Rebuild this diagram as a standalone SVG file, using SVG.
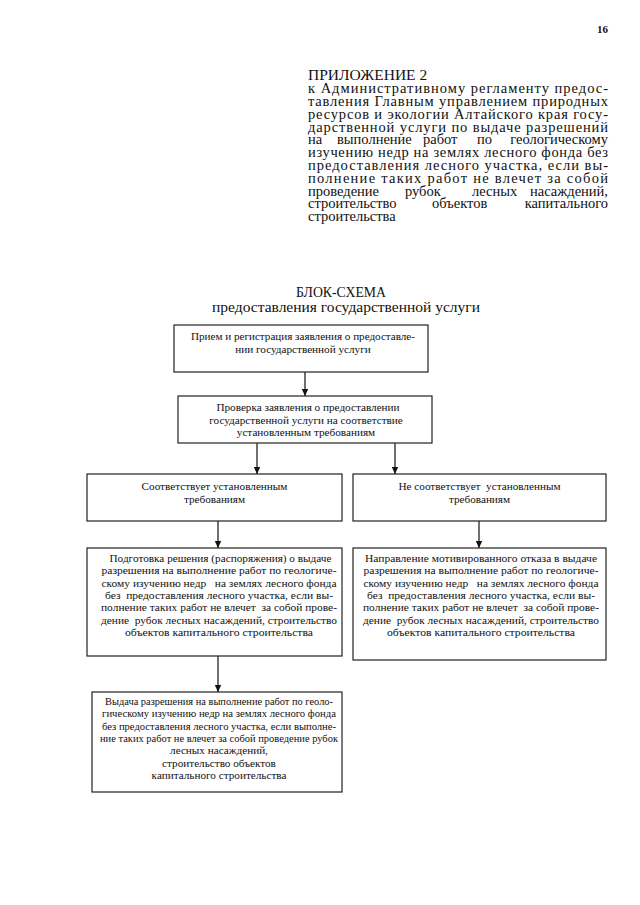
<svg xmlns="http://www.w3.org/2000/svg" width="640" height="905" viewBox="0 0 640 905">
<defs>
<marker id="ah" markerWidth="8" markerHeight="8" refX="7" refY="4" orient="auto" markerUnits="userSpaceOnUse">
<path d="M0,0.8 L7,4 L0,7.2 Z" fill="#111"/>
</marker>
<style>
text{font-family:"Liberation Serif","Times New Roman",serif;fill:#111}
.hd{font-size:14.5px}
.tt{font-size:15.5px}
.bx{font-size:11.2px;text-anchor:middle;white-space:pre}
.box{fill:#fff;stroke:#222;stroke-width:1.2}
.ln{stroke:#111;stroke-width:1.2;fill:none;marker-end:url(#ah)}
</style>
</defs>
<rect width="640" height="905" fill="#fff"/>
<text x="597" y="33" style="font-size:11px;font-weight:bold">16</text>
<g id="header" class="hd">
<text x="308" y="80" style="font-size:15.5px">ПРИЛОЖЕНИЕ 2</text>
<text x="308" y="93" textLength="300" lengthAdjust="spacing">к Административному регламенту предос-</text>
<text x="308" y="106" textLength="300" lengthAdjust="spacing">тавления Главным управлением природных</text>
<text x="308" y="119" textLength="300" lengthAdjust="spacing">ресурсов и экологии Алтайского края госу-</text>
<text x="308" y="131.5" textLength="300" lengthAdjust="spacing">дарственной услуги по выдаче разрешений</text>
<text x="308" y="144">на</text><text x="337" y="144">выполнение</text><text x="423" y="144">работ</text><text x="477" y="144">по</text><text x="608" y="144" text-anchor="end">геологическому</text>
<text x="308" y="157" textLength="300" lengthAdjust="spacing">изучению недр на землях лесного фонда без</text>
<text x="308" y="170" textLength="300" lengthAdjust="spacing">предоставления лесного участка, если вы-</text>
<text x="308" y="182.5" textLength="300" lengthAdjust="spacing">полнение таких работ не влечет за собой</text>
<text x="308" y="195.5">проведение</text><text x="405" y="195.5">рубок</text><text x="472" y="195.5">лесных</text><text x="608" y="195.5" text-anchor="end">насаждений,</text>
<text x="308" y="208">строительство</text><text x="432" y="208">объектов</text><text x="608" y="208" text-anchor="end">капитального</text>
<text x="308" y="221">строительства</text>
</g>
<g id="title" class="tt" text-anchor="middle">
<text x="341" y="297" textLength="90" lengthAdjust="spacingAndGlyphs">БЛОК-СХЕМА</text>
<text x="346" y="312">предоставления государственной услуги</text>
</g>
<g id="connectors">
<line class="ln" x1="305" y1="372" x2="305" y2="396"/>
<line class="ln" x1="257" y1="443" x2="257" y2="474"/>
<line class="ln" x1="395" y1="443" x2="395" y2="474"/>
<line class="ln" x1="218" y1="521" x2="218" y2="548"/>
<line class="ln" x1="479" y1="521" x2="479" y2="548"/>
<line class="ln" x1="218" y1="656" x2="218" y2="692"/>
</g>
<g id="n1">
<rect class="box" x="174" y="325" width="254" height="47"/>
<text class="bx" x="303" y="340" textLength="224" lengthAdjust="spacingAndGlyphs">Прием и регистрация заявления о предоставле-</text>
<text class="bx" x="303" y="352.5">нии государственной услуги</text>
</g>
<g id="n2">
<rect class="box" x="178" y="396" width="254" height="47"/>
<text class="bx" x="308" y="411">Проверка заявления о предоставлении</text>
<text class="bx" x="306" y="423.5">государственной услуги на соответствие</text>
<text class="bx" x="306" y="436">установленным требованиям</text>
</g>
<g id="n3">
<rect class="box" x="87" y="474" width="255" height="47"/>
<text class="bx" x="214.5" y="490">Соответствует установленным</text>
<text class="bx" x="214.5" y="503">требованиям</text>
</g>
<g id="n4">
<rect class="box" x="353" y="474" width="253" height="47"/>
<text class="bx" x="479.5" y="490">Не соответствует  установленным</text>
<text class="bx" x="479.5" y="503">требованиям</text>
</g>
<g id="n5">
<rect class="box" x="87" y="548" width="255" height="108"/>
<text class="bx" x="220.5" y="562" textLength="222" lengthAdjust="spacingAndGlyphs">Подготовка решения (распоряжения) о выдаче</text>
<text class="bx" x="219" y="574.3" textLength="235" lengthAdjust="spacingAndGlyphs">разрешения на выполнение работ по геологиче-</text>
<text class="bx" x="219" y="586.6" textLength="235" lengthAdjust="spacingAndGlyphs">скому изучению недр   на землях лесного фонда</text>
<text class="bx" x="219" y="598.9" textLength="228" lengthAdjust="spacingAndGlyphs">без  предоставления лесного участка, если вы-</text>
<text class="bx" x="219" y="611.2" textLength="236" lengthAdjust="spacingAndGlyphs">полнение таких работ не влечет  за собой прове-</text>
<text class="bx" x="219" y="623.5" textLength="236" lengthAdjust="spacingAndGlyphs">дение  рубок лесных насаждений, строительство</text>
<text class="bx" x="219" y="635.8" textLength="188" lengthAdjust="spacingAndGlyphs">объектов капитального строительства</text>
</g>
<g id="n6">
<rect class="box" x="353" y="548" width="253" height="112"/>
<text class="bx" x="481" y="562" textLength="232" lengthAdjust="spacingAndGlyphs">Направление мотивированного отказа в выдаче</text>
<text class="bx" x="481" y="574.3" textLength="235" lengthAdjust="spacingAndGlyphs">разрешения на выполнение работ по геологиче-</text>
<text class="bx" x="481" y="586.6" textLength="235" lengthAdjust="spacingAndGlyphs">скому изучению недр   на землях лесного фонда</text>
<text class="bx" x="481" y="598.9" textLength="228" lengthAdjust="spacingAndGlyphs">без  предоставления лесного участка, если вы-</text>
<text class="bx" x="481" y="611.2" textLength="236" lengthAdjust="spacingAndGlyphs">полнение таких работ не влечет  за собой прове-</text>
<text class="bx" x="481" y="623.5" textLength="236" lengthAdjust="spacingAndGlyphs">дение  рубок лесных насаждений, строительство</text>
<text class="bx" x="481" y="635.8" textLength="188" lengthAdjust="spacingAndGlyphs">объектов капитального строительства</text>
</g>
<g id="n7">
<rect class="box" x="92" y="692" width="250" height="100"/>
<text class="bx" x="219" y="705" textLength="228" lengthAdjust="spacingAndGlyphs">Выдача разрешения на выполнение работ по геоло-</text>
<text class="bx" x="219" y="717.3" textLength="234" lengthAdjust="spacingAndGlyphs">гическому изучению недр на землях лесного фонда</text>
<text class="bx" x="219" y="729.6" textLength="234" lengthAdjust="spacingAndGlyphs">без предоставления лесного участка, если выполне-</text>
<text class="bx" x="219" y="741.9" textLength="238" lengthAdjust="spacingAndGlyphs">ние таких работ не влечет за собой проведение рубок</text>
<text class="bx" x="219" y="754.2">лесных насаждений,</text>
<text class="bx" x="219" y="766.5">строительство объектов</text>
<text class="bx" x="219" y="778.8">капитального строительства</text>
</g>
</svg>
